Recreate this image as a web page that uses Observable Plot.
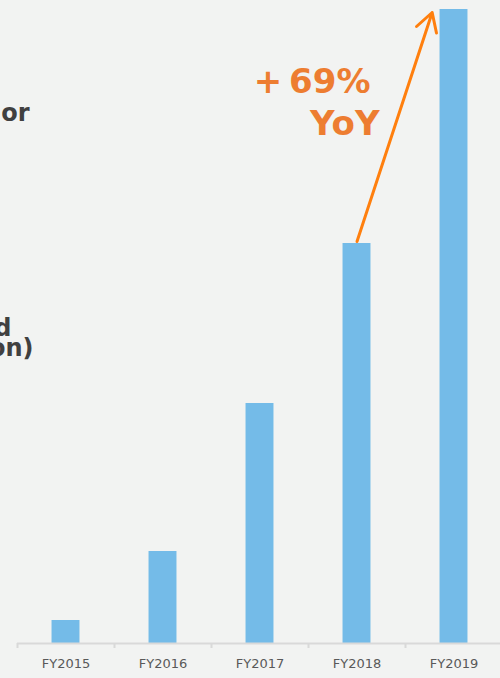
<!DOCTYPE html>
<html>
<head>
<meta charset="utf-8">
<script src="https://cdn.jsdelivr.net/npm/d3@7"></script>
<script src="https://cdn.jsdelivr.net/npm/@observablehq/plot@0.6"></script>
<style>
  html, body { margin: 0; padding: 0; background: #f2f3f2; overflow: hidden; }
  #chart svg { display: block; }
</style>
</head>
<body>
<div id="chart"></div>
<script>
// Fiscal years on the x axis
const fiscalYears = ["FY2015", "FY2016", "FY2017", "FY2018", "FY2019"];
// Bar values, one per fiscal year
const values = [2.3, 9.2, 24.0, 40.0, 63.4];
// Growth callout text (thin space after the plus sign)
const growthLabel = "+\u200969%";
const growthUnit = "YoY";
// Visible pieces of the vertical title at the left edge
const titleFragments = ["or", "d", "on)"];

const yearIndex = fiscalYears.map((d, i) => i);
const boundaries = fiscalYears.map((d, i) => i - 0.5);
const barHalf = 0.144;

const blue = "#74bbe8";
const orange = "#ff7f0e";
const labelOrange = "#ed7d31";
const axisGray = "#d9d9d9";

const chart = Plot.plot({
  width: 500,
  height: 678,
  marginLeft: 17,
  marginRight: -2,
  marginTop: 0,
  marginBottom: 35,
  style: {
    background: "#f2f3f2",
    fontFamily: "Verdana, 'DejaVu Sans', sans-serif"
  },
  x: { domain: [-0.5, 4.5] },
  y: { domain: [0, 64.3], axis: null },
  marks: [
    // bars
    Plot.rectY(yearIndex, {
      x1: i => i - barHalf,
      x2: i => i + barHalf,
      y1: 0,
      y2: i => values[i],
      fill: blue
    }),
    // baseline and category separators
    Plot.ruleY([0], { stroke: axisGray, strokeWidth: 2 }),
    Plot.ruleX(boundaries, { y1: 0, y2: -0.5, stroke: axisGray, strokeWidth: 2 }),
    Plot.axisX({
      ticks: yearIndex,
      tickFormat: i => fiscalYears[i],
      tickSize: 0,
      tickPadding: 15,
      fontSize: 13,
      color: "#595959",
      label: null
    }),
    // growth arrow from FY2018 up to FY2019
    Plot.arrow([{ from: 3, to: 4 }], {
      x1: d => d.from,
      y1: d => values[d.from] + 0.2,
      x2: d => d.to - 0.225,
      y2: d => values[d.to] - 0.3,
      stroke: orange,
      strokeWidth: 3,
      headLength: 10.5,
      headAngle: 60
    }),
    Plot.text([growthLabel], {
      x: 3.139, y: 56.16, text: d => d,
      textAnchor: "end", fontSize: 34, fontWeight: "bold", fill: labelOrange
    }),
    Plot.text([growthUnit], {
      x: 3.232, y: 51.89, text: d => d,
      textAnchor: "end", fontSize: 34, fontWeight: "bold", fill: labelOrange
    }),
    // left title pieces
    Plot.text([titleFragments[0]], {
      frameAnchor: "top-left", text: d => d, textAnchor: "end", lineAnchor: "middle",
      dx: 12, dy: 113, fontSize: 24, fontWeight: "bold", fill: "#404040"
    }),
    Plot.text([titleFragments[1]], {
      frameAnchor: "top-left", text: d => d, textAnchor: "end", lineAnchor: "middle",
      dx: -6, dy: 328, fontSize: 24, fontWeight: "bold", fill: "#404040"
    }),
    Plot.text([titleFragments[2]], {
      frameAnchor: "top-left", text: d => d, textAnchor: "end", lineAnchor: "middle",
      dx: 16, dy: 348, fontSize: 24, fontWeight: "bold", fill: "#404040"
    })
  ]
});

document.getElementById("chart").appendChild(chart);
</script>
</body>
</html>
